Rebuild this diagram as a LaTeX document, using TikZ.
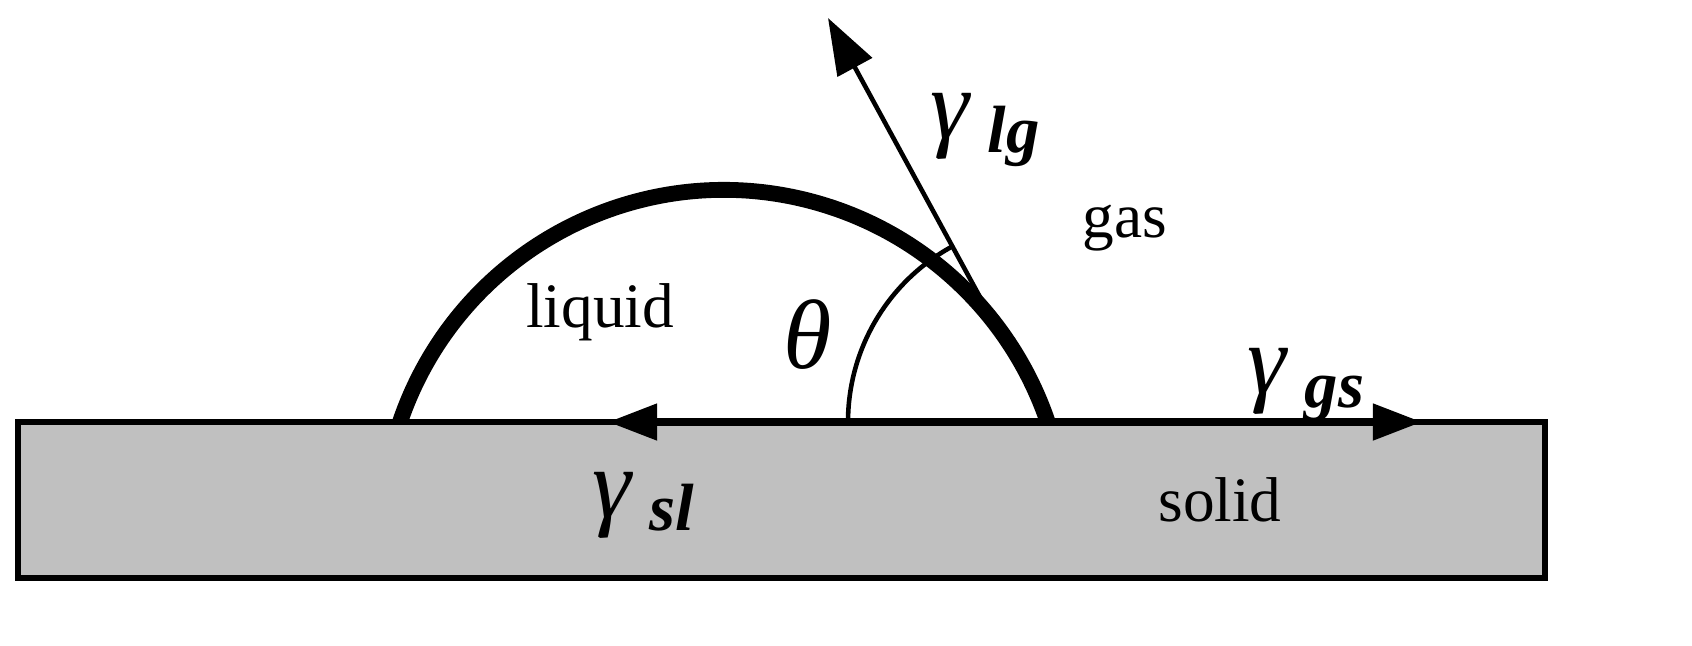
\documentclass[tikz,border=0pt]{standalone}
\usepackage{fontspec}
\setmainfont{Liberation Serif}
\usetikzlibrary{arrows.meta}
\begin{document}
\begin{tikzpicture}[x=0.01cm,y=-0.01cm,
  lbl/.style={font=\fontsize{18}{20}\selectfont},
  gam/.style={font=\fontsize{28}{30}\selectfont},
  force/.style={line width=2.2pt,-{Triangle[length=14pt,width=10pt]}}]
\useasboundingbox (0,0) rectangle (1692,645);
\path[draw,line width=1.6pt,fill={rgb,255:red,192;green,192;blue,192}] (18,422) rectangle (1545,578);
\coordinate (cp) at (1048,422);
\coordinate (lp) at (400,422);
\coordinate (tipl) at (608,422);
\coordinate (tipr) at (1422,422);
\coordinate (tipu) at (828,18);
\draw[line width=1.6pt] (lp) -- (cp);
\draw[line width=4.5pt] (lp) arc[start angle=161.25,end angle=18.75,x radius=342,y radius=-342];
\draw[force] (cp) -- (tipl);
\draw[force] (cp) -- (tipr);
\draw[line width=1.3pt,-{Triangle[length=16pt,width=11pt]}] (cp) -- (tipu);
\draw[line width=1.3pt] (848,422) arc[start angle=180,end angle=119,x radius=200,y radius=-200];
\node[lbl] (liq) at (600,312) {liquid};
\node[lbl] (gas) at (1125,228) {gas};
\node[lbl] (sol) at (1220,500) {solid};
\node[gam] (th) at (808,335) {\textit{θ}};
\node[gam,anchor=west] (glg) at (918,130) {\textit{γ}\,\raisebox{-0.3ex}{\fontsize{19}{21}\selectfont\textbf{\textit{lg}}}};
\node[gam,anchor=west] (ggs) at (1235,385) {\textit{γ}\,\raisebox{-0.3ex}{\fontsize{19}{21}\selectfont\textbf{\textit{gs}}}};
\node[gam,anchor=west] (gsl) at (580,505) {\textit{γ}\,\raisebox{-0.3ex}{\fontsize{19}{21}\selectfont\textbf{\textit{sl}}}};
\end{tikzpicture}
\end{document}
